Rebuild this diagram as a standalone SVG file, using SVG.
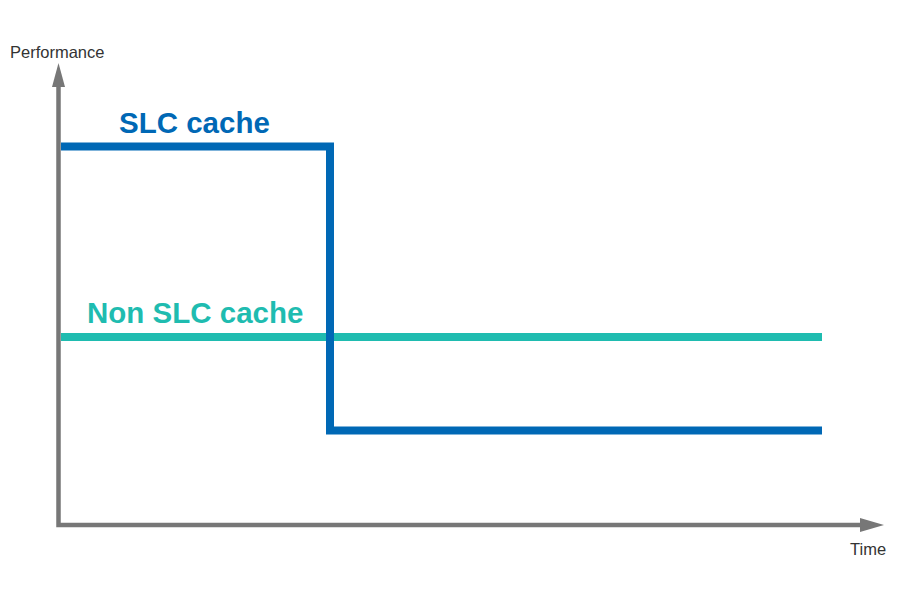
<svg xmlns="http://www.w3.org/2000/svg" width="900" height="600" viewBox="0 0 900 600">
<style>
.axis{stroke:#777;stroke-width:4.5;fill:none}
.head{fill:#777}
.lbl{font-family:"Liberation Sans",Arial,sans-serif;font-size:16.5px;fill:#333}
.big{font-family:"Liberation Sans",Arial,sans-serif;font-size:29.5px;font-weight:bold}
</style>
<rect width="900" height="600" fill="#fff"/>
<g id="axes">
<path class="axis" d="M58.5 86 V525 H861"/>
<polygon class="head" points="58.5,63 65,87 52,87"/>
<polygon class="head" points="884,525 860,518 860,532"/>
<text class="lbl" x="10" y="58">Performance</text>
<text class="lbl" x="850" y="555">Time</text>
</g>
<g id="non-slc">
<line x1="61" y1="337" x2="822" y2="337" stroke="#1fbcb0" stroke-width="8"/>
<text class="big" x="87" y="323" fill="#1fbcb0">Non SLC cache</text>
</g>
<g id="slc">
<polyline points="61,146.5 330,146.5 330,430.5 822,430.5" fill="none" stroke="#0068b5" stroke-width="8"/>
<text class="big" x="119" y="133" fill="#0068b5">SLC cache</text>
</g>
</svg>
